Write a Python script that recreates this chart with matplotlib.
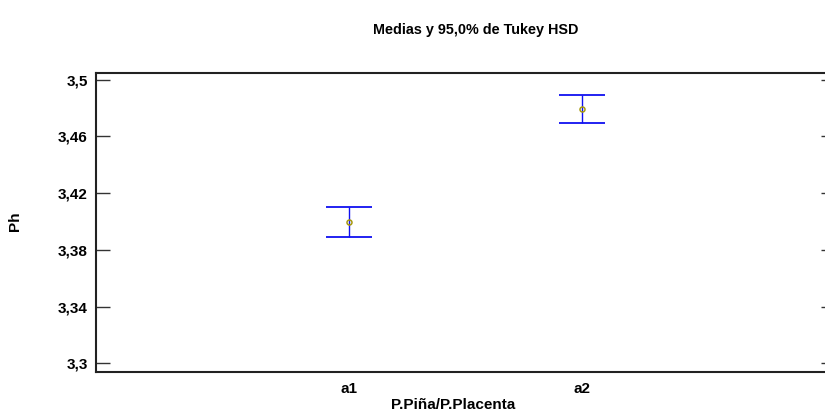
"""Tukey HSD means plot: Ph by P.Piña/P.Placenta"""
import matplotlib
matplotlib.use('Agg')
import matplotlib.pyplot as plt
import numpy as np

# ============================================================================
# DATA
# ============================================================================
groups = ['a1', 'a2']
means = [3.3997, 3.4794]
lower = [3.3893, 3.4694]
upper = [3.4100, 3.4894]

y_ticks = [3.30, 3.34, 3.38, 3.42, 3.46, 3.50]
y_tick_labels = ['3,3', '3,34', '3,38', '3,42', '3,46', '3,5']

# ============================================================================
# PLOTTING
# ============================================================================
plt.rcParams['font.family'] = ['Liberation Sans', 'DejaVu Sans']
plt.rcParams['font.weight'] = 'bold'

W, H = 825, 415
fig = plt.figure(figsize=(W / 100, H / 100), dpi=100)

# axes box in pixels: left spine 96, right spine 835 (off the canvas), top 73, bottom 372
left, right, top, bottom = 96, 835, 73, 372
ax = fig.add_axes([left / W, 1 - bottom / H, (right - left) / W, (bottom - top) / H])

x = np.arange(1, len(groups) + 1)
means = np.array(means)
err = np.array([means - np.array(lower), np.array(upper) - means])

ax.errorbar(x, means, yerr=err, fmt='none', ecolor='#1010f0',
            elinewidth=1.0, capsize=16.5, capthick=1.3, zorder=3)
ax.plot(x, means, 'o', markersize=3.6, markerfacecolor='none',
        markeredgecolor='#a89a10', markeredgewidth=1.1, zorder=4)

ax.set_xlim(1 - 1.088, 2 + 1.088)
ax.set_ylim(3.2939, 3.5047)

ax.set_xticks(x)
ax.set_xticklabels(groups, fontsize=11, fontweight='bold')
ax.tick_params(axis='x', length=0, pad=7)

ax.set_yticks(y_ticks)
ax.set_yticklabels(y_tick_labels, fontsize=11, fontweight='bold')
ax.tick_params(axis='y', direction='in', length=10, width=1.0, color='#333333',
               right=True, pad=6)

for side in ['left', 'top', 'bottom', 'right']:
    ax.spines[side].set_linewidth(1.5)
    ax.spines[side].set_color('#222222')

fig.text(476 / W, 1 - 30 / H, 'Medias y 95,0% de Tukey HSD',
         ha='center', va='center', fontsize=10.4, fontweight='bold')
fig.text(453 / W, 1 - 405 / H, 'P.Piña/P.Placenta',
         ha='center', va='center', fontsize=11, fontweight='bold')
fig.text(15 / W, 1 - 221 / H, 'Ph', rotation=90,
         ha='center', va='center', fontsize=11, fontweight='bold')

plt.savefig('out.png', dpi=100)
